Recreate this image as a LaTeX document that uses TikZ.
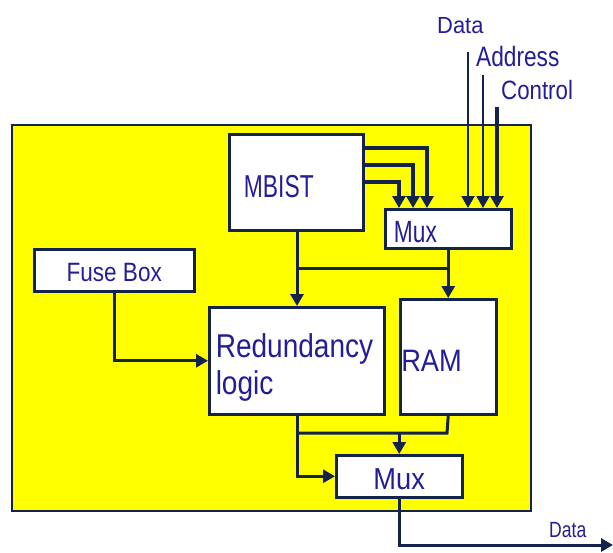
\documentclass[tikz,border=0pt]{standalone}
\usepackage{fontspec}
\setmainfont{Liberation Sans}
\usetikzlibrary{arrows.meta,calc}
\definecolor{txt}{RGB}{35,30,150}
\definecolor{ln}{RGB}{20,35,75}
\definecolor{yel}{RGB}{255,255,0}
\newcommand\myfont[3]{\fontspec[FakeStretch=#1]{Liberation Sans}\fontsize{#2}{#3}\selectfont}
\begin{document}
\begin{tikzpicture}[x=1pt,y=-1pt,
  box/.style={draw=ln, line width=2.5pt, fill=white, anchor=north west, text=txt, inner ysep=0pt},
  conn/.style={draw=ln, line width=3pt, -{Triangle[width=13pt,length=12pt]}},
  wire/.style={draw=ln, line width=3pt},
  lbl/.style={text=txt, inner sep=0pt, anchor=base west}]
\useasboundingbox (0,0) rectangle (613,552);
\fill[white] (0,0) rectangle (613,552);
% chip outline
\draw[draw=ln, line width=2pt, fill=yel] (12,125) rectangle (531,511);
% boxes
\node[box, minimum width=134pt, minimum height=96pt, text width=104.6pt, inner xsep=14.7pt, align=left, text height=31.3pt, text depth=0pt, font=\myfont{0.72}{31.7}{34}] (mbist) at (228,133) {MBIST};
\node[box, minimum width=126pt, minimum height=39pt, text width=108.6pt, inner xsep=8.7pt, align=left, text height=27.6pt, text depth=0pt, font=\myfont{0.74}{30.7}{33}] (mux1) at (384,208) {Mux};
\node[box, minimum width=160pt, minimum height=42pt, align=center, text height=22pt, text depth=0pt, font=\myfont{0.85}{26.5}{29}] (fuse) at (33,248) {Fuse Box};
\node[box, minimum width=175pt, minimum height=107pt, text width=162pt, inner xsep=6.5pt, align=left, text height=25pt, text depth=30.6pt, font=\myfont{0.85}{33}{36.3}] (red) at (208,306) {Redundancy\\logic};
\node[box, minimum width=96pt, minimum height=115pt, text width=94pt, inner xsep=1pt, align=left, text height=29pt, text depth=0pt, font=\myfont{0.88}{31}{34}] (ram) at (399,298) {RAM};
\node[box, minimum width=126pt, minimum height=42pt, align=center, text height=26.7pt, text depth=0pt, font=\myfont{0.9}{30.3}{33}] (mux2) at (335,454) {Mux};
% external inputs
\node[lbl, font=\myfont{0.94}{23.3}{26}] (ldata) at (437,33.3) {Data};
\node[lbl, font=\myfont{0.81}{28}{30}] (laddr) at (476,66.7) {Address};
\node[lbl, font=\myfont{0.84}{26.5}{29}] (lctrl) at (501,99) {Control};
\node[lbl, font=\myfont{0.8}{22}{25}] (lout) at (549,537) {Data};
\coordinate (din) at (468,52);
\coordinate (ain) at (483,75);
\coordinate (cin) at (497,107);
\coordinate (dout) at (613,545);
\draw[conn, line width=2pt] (din) -- (din |- mux1.north);
\draw[conn, line width=2pt] (ain) -- (ain |- mux1.north);
\draw[conn, line width=4pt] (cin) -- (cin |- mux1.north);
% MBIST to upper mux
\draw[conn, line width=3.5pt] (mbist.east |- 0,148) -| (427,0 |- mux1.north);
\draw[conn, line width=3.5pt] (mbist.east |- 0,165) -| (413,0 |- mux1.north);
\draw[conn, line width=3.5pt] (mbist.east |- 0,182) -| (399,0 |- mux1.north);
% MBIST / mux to redundancy and RAM
\draw[conn] (297,0 |- mbist.south) -- (297,0 |- red.north);
\draw[conn] (mux1.south) -- (mux1.south |- ram.north);
\draw[wire] (297,268) -- (447,268);
% fuse box to redundancy
\draw[conn] (fuse.south) |- (red.west);
% outputs to lower mux
\draw[conn] (297,0 |- red.south) |- (mux2.west);
\draw[wire] (ram.south) -- (447,433) -- (297,433);
\draw[conn] (mux2.north |- 0,433) -- (mux2.north);
\draw[conn] (mux2.south) |- (dout);
\end{tikzpicture}
\end{document}
